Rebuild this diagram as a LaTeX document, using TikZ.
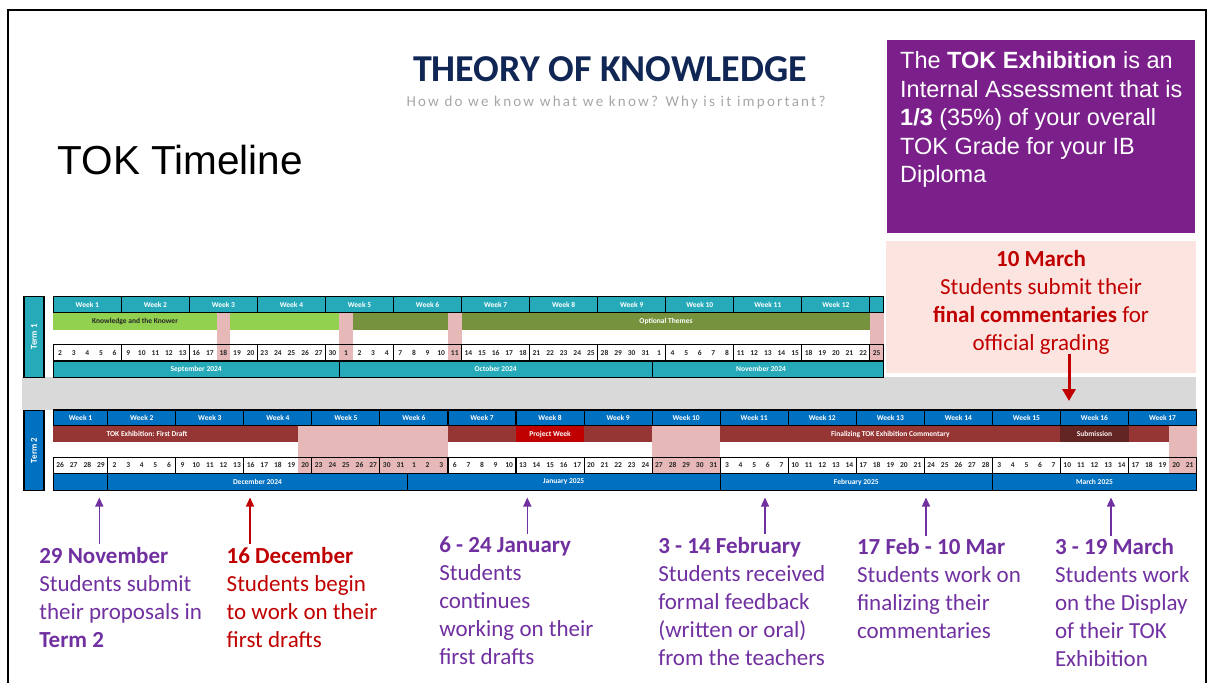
\documentclass[tikz,border=0pt]{standalone}
\usepackage{fontspec}
\setmainfont{Carlito}
\newfontfamily\arialfont{Liberation Sans}
\newfontfamily\spacedfont[LetterSpace=15]{Carlito}
\usepackage{xcolor}
\usetikzlibrary{arrows.meta}

\definecolor{tokNavy}{RGB}{16,38,84}
\definecolor{tokPurple}{RGB}{123,31,139}
\definecolor{txtPurple}{RGB}{112,48,160}
\definecolor{txtRed}{RGB}{192,0,0}
\definecolor{pinkBox}{RGB}{252,228,224}
\definecolor{termTeal}{RGB}{38,170,186}
\definecolor{termBlue}{RGB}{0,112,192}
\definecolor{knowGreen}{RGB}{146,208,80}
\definecolor{optGreen}{RGB}{118,146,60}
\definecolor{breakPink}{RGB}{230,184,183}
\definecolor{draftRed}{RGB}{150,54,52}
\definecolor{projRed}{RGB}{192,0,0}
\definecolor{subRed}{RGB}{99,37,35}
\definecolor{bandGray}{RGB}{217,217,217}

% x position of the left edge of day cell #1
\newcommand{\dayx}[1]{53.3+(#1)*13.61}
\newcommand{\tinyfont}{\fontsize{7.5}{9}\selectfont\bfseries}

\begin{document}
\begin{tikzpicture}[x=1pt,y=-1pt,
    cell/.style={draw=black,line width=1.1pt},
    tiny/.style={inner sep=0,font=\tinyfont,text=black!85},
    termlbl/.style={draw=black,line width=1.1pt,text=white,rotate=90,minimum width=80.6pt,minimum height=20pt,inner sep=0,font=\fontsize{9}{10}\selectfont\bfseries},
    note/.style={anchor=north west,align=left,inner sep=0,outer xsep=0,outer ysep=3pt,font=\fontsize{23}{28}\selectfont},
    parr/.style={-{Triangle[length=9pt,width=8pt]},line width=1.4pt,txtPurple},
    rarr/.style={-{Triangle[length=9pt,width=8pt]},line width=1.4pt,txtRed}]
\useasboundingbox (0,0) rectangle (1208,683);
\draw[line width=2pt] (8.3,700) -- (8.3,10) -- (1206,10) -- (1206,700);

% headings
\node[anchor=base,inner sep=0,text=tokNavy,font=\fontsize{38}{44}\selectfont\bfseries] (tok) at (610,81.7) {THEORY OF KNOWLEDGE};
\node[anchor=base,inner sep=0,text=black!35,font=\spacedfont\fontsize{15}{18}\selectfont] (sub) at (616,106.7) {How do we know what we know? Why is it important?};
\node[anchor=base west,inner sep=0,font=\arialfont\fontsize{40.5}{48}\selectfont] (tline) at (57.5,174) {TOK Timeline};

\node[anchor=north west,fill=tokPurple,minimum width=308pt,minimum height=193pt,inner sep=0] (ia) at (887,40) {};
\node[anchor=north west,align=left,inner sep=0,text=white,font=\arialfont\fontsize{23.5}{28.5}\selectfont] (iatxt) at (900,51.5)
  {The \textbf{TOK Exhibition} is an\\Internal Assessment that is\\\textbf{1/3} (35\%) of your overall\\TOK Grade for your IB\\Diploma};

\fill[bandGray] (22,377.3) rectangle (1196,410);

% term 1
\node[termlbl,fill=termTeal] (t1) at (34,337) {Term 1};
\foreach \k in {0,...,11}
  \draw[cell,fill=termTeal] ({\dayx{5*\k}},296.7) rectangle ({\dayx{5*\k+5}},312.7);
\draw[cell,fill=termTeal] ({\dayx{60}},296.7) rectangle ({\dayx{61}},312.7);
\foreach \k in {1,...,12}
  \node[tiny,text=white] (t1w\k) at ({\dayx{5*\k-2.5}},304.7) {Week \k};
\fill[knowGreen] ({\dayx{0}},312.7) rectangle ({\dayx{21}},330);
\fill[optGreen] ({\dayx{22}},312.7) rectangle ({\dayx{60}},330);
\foreach \b in {12,21,29,60}
  \fill[breakPink] ({\dayx{\b}},312.7) rectangle ({\dayx{\b+1}},361);
\foreach \k in {0,...,11}
  \draw[cell] ({\dayx{5*\k}},344.3) rectangle ({\dayx{5*\k+5}},361);
\draw[cell] ({\dayx{60}},344.3) rectangle ({\dayx{61}},361);
\foreach \d [count=\i from 0] in {2,3,4,5,6,9,10,11,12,13,16,17,18,19,20,23,24,25,26,27,30,1,2,3,4,7,8,9,10,11,14,15,16,17,18,21,22,23,24,25,28,29,30,31,1,4,5,6,7,8,11,12,13,14,15,18,19,20,21,22,25}
  \node[tiny] (t1d\i) at ({\dayx{\i+0.5}},352.7) {\d};
\node[tiny] (t1k) at (135,321.4) {Knowledge and the Knower};
\node[tiny,text=white] (t1o) at (666,321.4) {Optional Themes};
\foreach \a/\b in {0/21,21/44,44/61}
  \draw[cell,fill=termTeal] ({\dayx{\a}},361) rectangle ({\dayx{\b}},377.3);
\node[tiny,text=white] (t1sep) at ({\dayx{10.5}},369.2) {September 2024};
\node[tiny,text=white] (t1oct) at ({\dayx{32.5}},369.2) {October 2024};
\node[tiny,text=white] (t1nov) at ({\dayx{52}},369.2) {November 2024};

% term 2
\node[termlbl,fill=termBlue] (t2) at (34,450.4) {Term 2};
\foreach \k in {1,...,17}{
  \pgfmathsetmacro\s{max(0,5*\k-6)}
  \draw[cell,fill=termBlue] ({\dayx{\s}},410) rectangle ({\dayx{5*\k-1}},425.7);
  \node[tiny,text=white] (t2w\k) at ({\dayx{(\s+5*\k-1)/2}},417.9) {Week \k};
}
\fill[draftRed] ({\dayx{0}},425.7) rectangle ({\dayx{82}},442.3);
\fill[projRed] ({\dayx{34}},425.7) rectangle ({\dayx{39}},442.3);
\fill[subRed] ({\dayx{74}},425.7) rectangle ({\dayx{79}},442.3);
\foreach \a/\b in {18/29,44/49,82/84}
  \fill[breakPink] ({\dayx{\a}},425.7) rectangle ({\dayx{\b}},473.3);
\foreach \k in {1,...,17}{
  \pgfmathsetmacro\s{max(0,5*\k-6)}
  \draw[cell] ({\dayx{\s}},457.3) rectangle ({\dayx{5*\k-1}},473.3);
}
\foreach \d [count=\i from 0] in {26,27,28,29,2,3,4,5,6,9,10,11,12,13,16,17,18,19,20,23,24,25,26,27,30,31,1,2,3,6,7,8,9,10,13,14,15,16,17,20,21,22,23,24,27,28,29,30,31,3,4,5,6,7,10,11,12,13,14,17,18,19,20,21,24,25,26,27,28,3,4,5,6,7,10,11,12,13,14,17,18,19,20,21}
  \node[tiny] (t2d\i) at ({\dayx{\i+0.5}},465.3) {\d};
\node[tiny,text=white] (t2fd) at (147,434) {TOK Exhibition: First Draft};
\node[tiny,text=white] (t2pw) at ({\dayx{36.5}},434) {Project Week};
\node[tiny,text=white] (t2fin) at ({\dayx{61.5}},434) {Finalizing TOK Exhibition Commentary};
\node[tiny,text=white!80!breakPink] (t2sub) at ({\dayx{76.5}},434) {Submission};
\foreach \a/\b in {0/4,4/26,26/49,49/69,69/84}
  \draw[cell,fill=termBlue] ({\dayx{\a}},473.3) rectangle ({\dayx{\b}},490.7);
\node[tiny,text=white] (t2dec) at ({\dayx{15}},482) {December 2024};
\node[tiny,text=white] (t2jan) at ({\dayx{37.5}},482) {January 2025};
\node[tiny,text=white] (t2feb) at ({\dayx{59}},482) {February 2025};
\node[tiny,text=white] (t2mar) at ({\dayx{76.5}},482) {March 2025};

% 10 March call-out
\node[anchor=north west,fill=pinkBox,minimum width=310pt,minimum height=132pt,inner sep=0] (mar) at (885.7,241) {};
\node[anchor=north,align=center,inner sep=0,text=txtRed,font=\fontsize{23}{28}\selectfont] (martxt) at (1041,250)
  {\textbf{10 March}\\Students submit their\\\textbf{final commentaries} for\\official grading};
\coordinate (m1) at (1069,401);
\draw[line width=3pt,txtRed,-{Triangle[length=12pt,width=13pt]}] (martxt.south -| m1) -- (m1);

% notes under the timeline
\node[note,text=txtPurple] (n1) at (39.3,544) {\textbf{29 November}\\Students submit\\their proposals in\\\textbf{Term 2}};
\node[note,text=txtRed] (n2) at (226.7,544) {\textbf{16 December}\\Students begin\\to work on their\\first drafts};
\node[note,text=txtPurple] (n3) at (439.3,534) {\textbf{6 - 24 January}\\Students\\continues\\working on their\\first drafts};
\node[note,text=txtPurple] (n4) at (658.3,534) {\textbf{3 - 14 February}\\Students received\\formal feedback\\(written or oral)\\from the teachers};
\node[note,text=txtPurple] (n5) at (857,535.5) {\textbf{17 Feb - 10 Mar}\\Students work on\\finalizing their\\commentaries};
\node[note,text=txtPurple] (n6) at (1055,535.5) {\textbf{3 - 19 March}\\Students work\\on the Display\\of their TOK\\Exhibition};
\coordinate (h1) at (99.3,497.5);
\coordinate (h2) at (250,497.5);
\coordinate (h3) at (527.3,497.5);
\coordinate (h4) at (765,497.5);
\coordinate (h5) at (926,497.5);
\coordinate (h6) at (1111,497.5);
\draw[parr] (n1.north -| h1) -- (h1);
\draw[rarr] (n2.north -| h2) -- (h2);
\draw[parr] (n3.north -| h3) -- (h3);
\draw[parr] (n4.north -| h4) -- (h4);
\draw[parr] (n5.north -| h5) -- (h5);
\draw[parr] (n6.north -| h6) -- (h6);
\end{tikzpicture}
\end{document}
